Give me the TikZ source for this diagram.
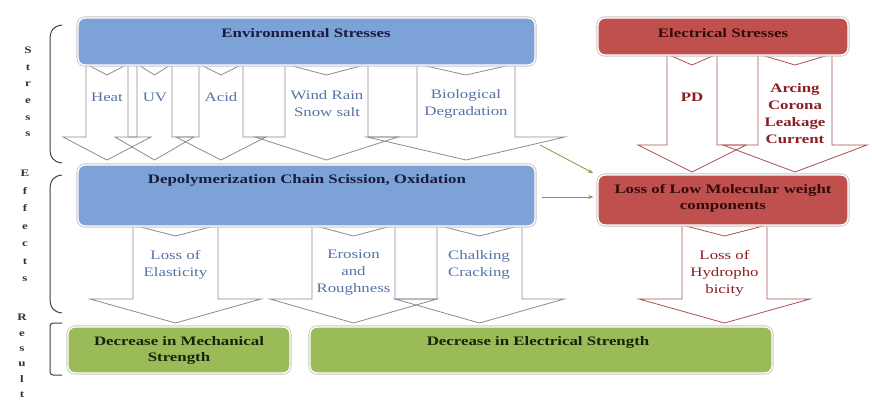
\documentclass[tikz,border=0pt]{standalone}
\usepackage{fontspec}
\setmainfont[FakeStretch=1.3]{Liberation Serif}
\usetikzlibrary{arrows.meta}
\definecolor{cBlue}{RGB}{124,162,216}
\definecolor{cRed}{RGB}{192,80,77}
\definecolor{cGreen}{RGB}{155,187,89}
\definecolor{cArrGray}{RGB}{140,140,145}
\definecolor{cArrRed}{RGB}{175,80,80}
\definecolor{cBlueTxt}{RGB}{85,115,165}
\definecolor{cRedTxt}{RGB}{140,30,35}
\definecolor{cNavy}{RGB}{25,28,60}
\definecolor{cDarkRed}{RGB}{50,10,10}
\definecolor{cDarkGreen}{RGB}{25,35,10}
\definecolor{cGline}{RGB}{125,155,70}
\newcommand{\blockdown}[8]{%
  \draw[#1] (#2,#4) -- ({(#2+#3)/2},{#4+11}) -- (#3,#4) -- (#3,#5) -- (#7,#5)
    -- ({(#2+#3)/2},#8) -- (#6,#5) -- (#2,#5) -- cycle;}
\begin{document}
\begin{tikzpicture}[x=1bp,y=-1bp,
  boxbase/.style={rounded corners=7bp, inner sep=0pt,
    preaction={draw=gray!45, line width=3.2bp}, draw=white, line width=1.4bp},
  bluebox/.style={boxbase, fill=cBlue},
  redbox/.style={boxbase, fill=cRed},
  greenbox/.style={boxbase, fill=cGreen},
  lbl/.style={font=\fontsize{13}{16}\selectfont\bfseries, align=center, inner sep=0pt},
  alabel/.style={font=\fontsize{13}{17}\selectfont, align=center, inner sep=0pt},
  bluearrow/.style={draw=cArrGray, line width=0.8bp, line join=miter},
  redarrow/.style={draw=cArrRed, line width=0.8bp, line join=miter},
  gline/.style={draw=cGline, line width=0.8bp, -{Stealth[length=5bp,width=4bp]}},
  bracket/.style={draw=black!75, line width=1bp},
  vlet/.style={align=center, inner sep=0pt, text=black!80}]
\useasboundingbox (0,0) rectangle (872,403);
\fill[white] (0,0) rectangle (872,403);

% ---- stress arrows (blue group)
\blockdown{bluearrow}{86}{128}{64}{137}{63}{151}{160}
\blockdown{bluearrow}{137}{172}{64}{137}{115}{194}{160}
\blockdown{bluearrow}{199}{243}{64}{137}{176}{266}{160}
\blockdown{bluearrow}{285}{368}{64}{137}{255}{398}{160}
\blockdown{bluearrow}{417}{515}{64}{137}{367}{565}{160}
% ---- electrical arrows
\blockdown{redarrow}{667}{717}{54}{145}{638}{746}{172}
\blockdown{redarrow}{758}{832}{54}{145}{723}{867}{172}
% ---- effect arrows
\blockdown{bluearrow}{133}{218}{225}{299}{90}{261}{323}
\blockdown{bluearrow}{312}{395}{225}{299}{270}{437}{323}
\blockdown{bluearrow}{437}{522}{225}{299}{395}{564}{323}
\blockdown{redarrow}{682}{767}{225}{299}{639}{810}{323}

% ---- boxes
\node[bluebox, minimum width=457bp, minimum height=47bp] (env) at (306.5,41.5) {};
\node[redbox, minimum width=250bp, minimum height=37bp] (elec) at (723,36.5) {};
\node[bluebox, minimum width=457bp, minimum height=61bp] (dep) at (306.5,195.5) {};
\node[redbox, minimum width=250bp, minimum height=50bp] (lmw) at (723,200) {};
\node[greenbox, minimum width=222bp, minimum height=46bp] (mech) at (179,350) {};
\node[greenbox, minimum width=462bp, minimum height=46bp] (estr) at (541,350) {};

% ---- box labels
\node[lbl, text=cNavy] (envl) at (306,33) {Environmental Stresses};
\node[lbl, text=cDarkRed] (elecl) at (723,33) {Electrical Stresses};
\node[lbl, text=cNavy] (depl) at (307,180) {Depolymerization Chain Scission, Oxidation};
\node[lbl, text=cDarkRed] (lmwl) at (723,198) {Loss of Low Molecular weight\\components};
\node[lbl, text=cDarkGreen] (mechl) at (179,350) {Decrease in Mechanical\\Strength};
\node[lbl, text=cDarkGreen] (estrl) at (538,342) {Decrease in Electrical Strength};

% ---- arrow labels
\node[alabel, text=cBlueTxt] (heat) at (107,97) {Heat};
\node[alabel, text=cBlueTxt] (uv) at (155,97) {UV};
\node[alabel, text=cBlueTxt] (acid) at (221,97) {Acid};
\node[alabel, text=cBlueTxt] (wind) at (327,103.5) {Wind Rain\\Snow salt};
\node[alabel, text=cBlueTxt] (bio) at (466,103.5) {Biological\\Degradation};
\node[alabel, text=cRedTxt, font=\fontsize{13}{17}\selectfont\bfseries] (pd) at (692,97) {PD};
\node[alabel, text=cRedTxt, font=\fontsize{13}{17}\selectfont\bfseries] (arc) at (795,113.5) {Arcing\\Corona\\Leakage\\Current};
\node[alabel, text=cBlueTxt] (elast) at (175.5,265) {Loss of\\Elasticity};
\node[alabel, text=cBlueTxt] (eros) at (353.5,273) {Erosion\\and\\Roughness};
\node[alabel, text=cBlueTxt] (chalk) at (479,265) {Chalking\\Cracking};
\node[alabel, text=cRedTxt] (hydro) at (724.5,273) {Loss of\\Hydropho\\bicity};

% ---- green connectors
\coordinate (g1) at (540,145);
\coordinate (g2) at (0,197);
\draw[gline] (g1) -- (593,173);
\draw[gline] (dep.east |- g2) ++(6,0) -- ([xshift=-4bp]lmw.west |- g2);

% ---- brackets
\draw[bracket] (62,25) .. controls (53,26) and (50,31) .. (50,40) -- (50,148)
  .. controls (50,157) and (53,162) .. (62,163);
\draw[bracket] (62,175) .. controls (53,176) and (50,181) .. (50,190) -- (50,298)
  .. controls (50,307) and (53,312) .. (62,313);
\draw[bracket, rounded corners=3bp] (62,323) -- (50,323) -- (50,375) -- (62,375);

% ---- vertical labels
\node[vlet, font=\fontsize{10}{16.6}\selectfont\bfseries] (vstr) at (28,92) {S\\t\\r\\e\\s\\s};
\node[vlet, font=\fontsize{10}{17.5}\selectfont\bfseries] (veff) at (25,226) {E\\f\\f\\e\\c\\t\\s};
\node[vlet, font=\fontsize{10}{15.4}\selectfont\bfseries] (vres) at (22,356) {R\\e\\s\\u\\l\\t};
\end{tikzpicture}
\end{document}
